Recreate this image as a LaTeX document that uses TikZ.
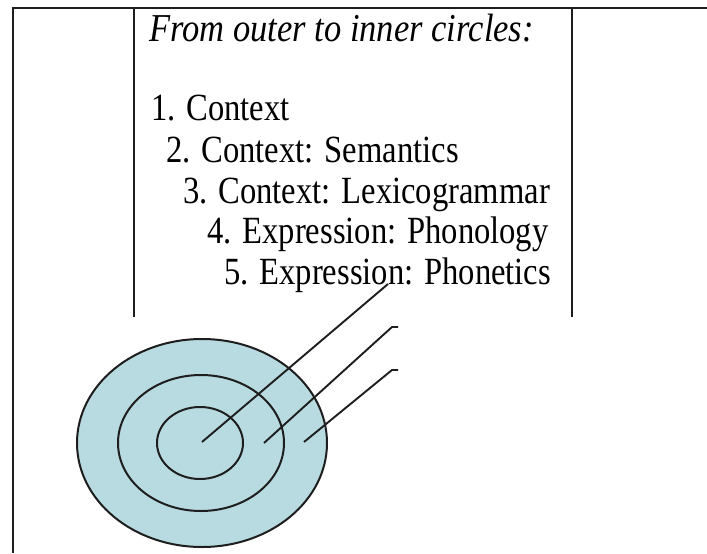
\documentclass[tikz,border=0pt]{standalone}
\usepackage{fontspec}
\setmainfont{Liberation Serif}
\definecolor{ringfill}{RGB}{183,219,224}
\definecolor{inkline}{RGB}{30,30,30}
\begin{document}
\begin{tikzpicture}[x=1pt,y=-1pt,
  frame/.style={draw=inkline,line width=1.8pt},
  ring/.style={draw=inkline,line width=2pt},
  pointer/.style={draw=inkline,line width=1.9pt},
  item/.style={anchor=base west,inner sep=0pt,font=\fontsize{32.6}{38}\selectfont},
  title/.style={anchor=base west,inner sep=0pt,font=\fontsize{33.5}{38}\selectfont\itshape}]
\useasboundingbox[fill=white] (0,0) rectangle (707,554);
% outer frame
\draw[frame] (13,553) -- (13,8) -- (707,8);
% text box
\draw[frame] (134,317) -- (134,8);
\draw[frame] (572,317) -- (572,8);
% texts
\node[title] (t0) at (149,41) {\scalebox{1.03}[1.18]{From outer to inner circles:}};
\node[item] (t1) at (151,120) {\scalebox{1}[1.18]{1. Context}};
\node[item] (t2) at (166,162) {\scalebox{1}[1.18]{2. Context: Semantics}};
\node[item] (t3) at (183,203) {\scalebox{1}[1.18]{3. Context: Lexicogrammar}};
\node[item] (t4) at (207,243) {\scalebox{1}[1.18]{4. Expression: Phonology}};
\node[item] (t5) at (224,284) {\scalebox{1}[1.18]{5. Expression: Phonetics}};
% circles
\draw[ring,fill=ringfill] (202,443) ellipse [x radius=125, y radius=104];
\draw[ring] (201,443) ellipse [x radius=83, y radius=68];
\draw[ring] (200,443) ellipse [x radius=43, y radius=36];
% pointer lines
\coordinate (a1) at (202,442);
\coordinate (b1) at (388,284);
\coordinate (a2) at (264,443);
\coordinate (b2) at (392,327);
\coordinate (c2) at (398,327);
\coordinate (a3) at (304,442);
\coordinate (b3) at (392,370);
\coordinate (c3) at (398,370);
\draw[pointer] (a1) -- (b1);
\draw[pointer] (a2) -- (b2) -- (c2);
\draw[pointer] (a3) -- (b3) -- (c3);
\end{tikzpicture}
\end{document}
